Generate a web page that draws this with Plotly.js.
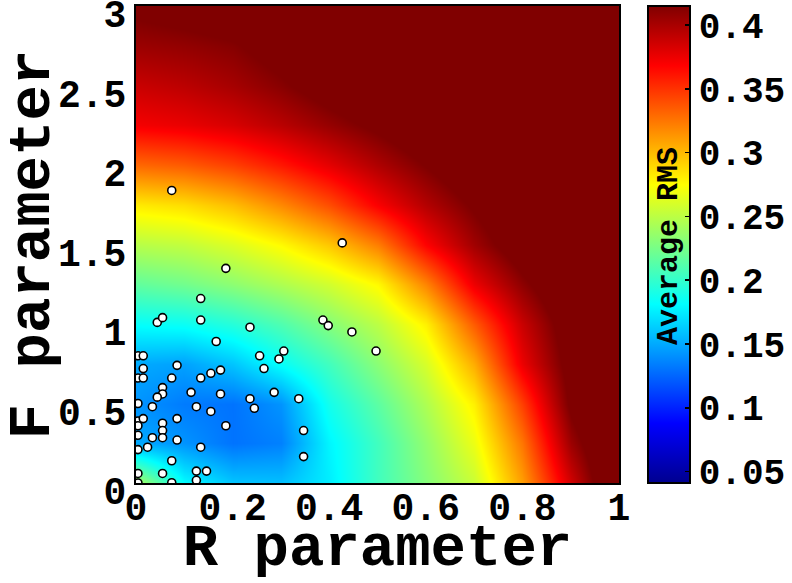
<!DOCTYPE html>
<html>
<head>
<meta charset="utf-8">
<script src="https://cdn.plot.ly/plotly-3.0.1.min.js"></script>
<style>html,body{margin:0;padding:0;background:#fff;}#chart{width:792px;height:583px;}</style>
</head>
<body>
<div id="chart"></div>
<script>
// Grid of the background surface
const rGrid = [0, 0.1, 0.2, 0.3, 0.4, 0.5, 0.6, 0.7, 0.8, 0.9, 1.0];
const fGrid = [0, 0.25, 0.5, 0.75, 1.0, 1.25, 1.5, 1.75, 2.0, 2.25, 2.5, 2.75, 3.0];
const rmsF000 = [0.245, 0.181, 0.16, 0.158, 0.175, 0.205, 0.23, 0.255, 0.31, 0.385, 0.45];
const rmsF025 = [0.15, 0.142, 0.13, 0.135, 0.178, 0.205, 0.235, 0.268, 0.325, 0.405, 0.45];
const rmsF050 = [0.142, 0.133, 0.13, 0.142, 0.188, 0.215, 0.245, 0.28, 0.345, 0.42, 0.46];
const rmsF075 = [0.15, 0.147, 0.16, 0.183, 0.205, 0.232, 0.26, 0.305, 0.375, 0.425, 0.46];
const rmsF100 = [0.183, 0.185, 0.195, 0.21, 0.23, 0.25, 0.28, 0.335, 0.388, 0.43, 0.46];
const rmsF125 = [0.217, 0.223, 0.233, 0.245, 0.258, 0.277, 0.32, 0.375, 0.41, 0.44, 0.46];
const rmsF150 = [0.248, 0.252, 0.262, 0.276, 0.295, 0.322, 0.368, 0.403, 0.43, 0.45, 0.46];
const rmsF175 = [0.282, 0.287, 0.299, 0.318, 0.34, 0.37, 0.396, 0.418, 0.44, 0.455, 0.46];
const rmsF200 = [0.33, 0.335, 0.345, 0.36, 0.378, 0.398, 0.416, 0.435, 0.45, 0.46, 0.47];
const rmsF225 = [0.372, 0.376, 0.383, 0.394, 0.407, 0.42, 0.434, 0.45, 0.46, 0.47, 0.47];
const rmsF250 = [0.388, 0.393, 0.401, 0.412, 0.426, 0.438, 0.45, 0.46, 0.47, 0.47, 0.47];
const rmsF275 = [0.405, 0.408, 0.413, 0.425, 0.44, 0.45, 0.46, 0.47, 0.47, 0.47, 0.47];
const rmsF300 = [0.42, 0.425, 0.43, 0.44, 0.45, 0.46, 0.47, 0.47, 0.47, 0.47, 0.47];

// Scatter points (R, F)
const pointsR = [0.074, 0.427, 0.186, 0.134, 0.044, 0.055, 0.134, 0.236, 0.387, 0.398, 0.447, 0.497,
  0.166, 0.256, 0.296, 0.306, 0.265, 0.004, 0.015, 0.015, 0.004, 0.015, 0.085, 0.074, 0.134, 0.155,
  0.175, 0.055, 0.055, 0.044, 0.034, 0.114, 0.175, 0.125, 0.155, 0.236, 0.245, 0.286, 0.337, 0.004,
  0.004, 0.015, 0.004, 0.085, 0.055, 0.055, 0.055, 0.034, 0.004, 0.085, 0.186, 0.347, 0.024, 0.004,
  0.134, 0.347, 0.074, 0.004, 0.055, 0.125, 0.146, 0.125, 0.074, 0.004];
const pointsF = [1.84, 1.51, 1.35, 1.16, 1.01, 1.04, 1.025, 0.98, 1.025, 0.99, 0.95, 0.83,
  0.89, 0.80, 0.78, 0.83, 0.72, 0.80, 0.80, 0.72, 0.66, 0.66, 0.74, 0.66, 0.66, 0.69,
  0.71, 0.60, 0.56, 0.54, 0.48, 0.57, 0.56, 0.48, 0.45, 0.53, 0.47, 0.57, 0.53, 0.50,
  0.39, 0.405, 0.36, 0.405, 0.376, 0.33, 0.285, 0.285, 0.30, 0.27, 0.36, 0.33, 0.225, 0.21,
  0.225, 0.166, 0.14, 0.06, 0.06, 0.075, 0.075, 0.017, 0.002, 0.0];

const xTickVals = [0, 0.2, 0.4, 0.6, 0.8, 1];
const xTickText = ['0', '0.2', '0.4', '0.6', '0.8', '1'];
const yTickVals = [0, 0.5, 1, 1.5, 2, 2.5, 3];
const yTickText = ['0', '0.5', '1', '1.5', '2', '2.5', '3'];
const cbTickVals = [0.05, 0.1, 0.15, 0.2, 0.25, 0.3, 0.35, 0.4];
const cbTickText = ['0.05', '0.1', '0.15', '0.2', '0.25', '0.3', '0.35', '0.4'];

const zGrid = [rmsF000, rmsF025, rmsF050, rmsF075, rmsF100, rmsF125, rmsF150,
  rmsF175, rmsF200, rmsF225, rmsF250, rmsF275, rmsF300];

const jet = [[0, '#00008f'], [0.125, '#0000ff'], [0.375, '#00ffff'],
  [0.625, '#ffff00'], [0.875, '#ff0000'], [1, '#800000']];

const FONT = 'Courier New, Liberation Mono, monospace';

const heat = {
  type: 'heatmap', x: rGrid, y: fGrid, z: zGrid, zsmooth: 'best',
  colorscale: jet, zmin: 0.041, zmax: 0.415, hoverinfo: 'skip',
  colorbar: {
    x: 1.06, xanchor: 'left', xpad: 0, y: 0.5, yanchor: 'middle', ypad: 0,
    len: 1, lenmode: 'fraction', thickness: 42, thicknessmode: 'pixels',
    outlinewidth: 2, outlinecolor: '#000',
    tickvals: cbTickVals, ticktext: cbTickText,
    ticks: 'inside', ticklen: 6, tickwidth: 1.5, tickcolor: '#000',
    tickfont: {family: FONT, size: 36, color: '#000', weight: 'bold'}
  }
};

const pts = {
  type: 'scatter', mode: 'markers', x: pointsR, y: pointsF,
  marker: {size: 8, color: '#fff', line: {color: '#000', width: 1.6}},
  hoverinfo: 'skip'
};

const layout = {
  width: 792, height: 583,
  margin: {l: 136, r: 173, t: 6, b: 100, autoexpand: false},
  paper_bgcolor: '#fff', plot_bgcolor: '#fff',
  showlegend: false,
  font: {family: FONT, color: '#000', weight: 'bold'},
  xaxis: {
    range: [0, 1], tickvals: xTickVals, ticktext: xTickText, ticks: '',
    showgrid: false, zeroline: false, showline: true, mirror: true,
    linecolor: '#000', linewidth: 2, ticklabelstandoff: -11, automargin: false,
    tickfont: {family: FONT, size: 38, weight: 'bold'},
    title: {text: 'R parameter', font: {family: FONT, size: 59, weight: 'bold'}, standoff: 26}
  },
  yaxis: {
    range: [0, 3], tickvals: yTickVals, ticktext: yTickText, ticks: '',
    showgrid: false, zeroline: false, showline: true, mirror: true, automargin: false,
    linecolor: '#000', linewidth: 2, ticklabeloverflow: 'allow', ticklabelshift: 8,
    tickfont: {family: FONT, size: 38, weight: 'bold'},
    title: {text: 'F parameter', font: {family: FONT, size: 59, weight: 'bold'}, standoff: 2}
  },
  annotations: [{
    text: 'Average RMS', xref: 'paper', yref: 'paper', x: 1.1035, y: 0.497,
    xanchor: 'center', yanchor: 'middle', textangle: -90, showarrow: false,
    font: {family: FONT, size: 30, color: '#000', weight: 'bold'}
  }]
};

Plotly.newPlot('chart', [heat, pts], layout, {displayModeBar: false, staticPlot: true});
</script>
</body>
</html>
